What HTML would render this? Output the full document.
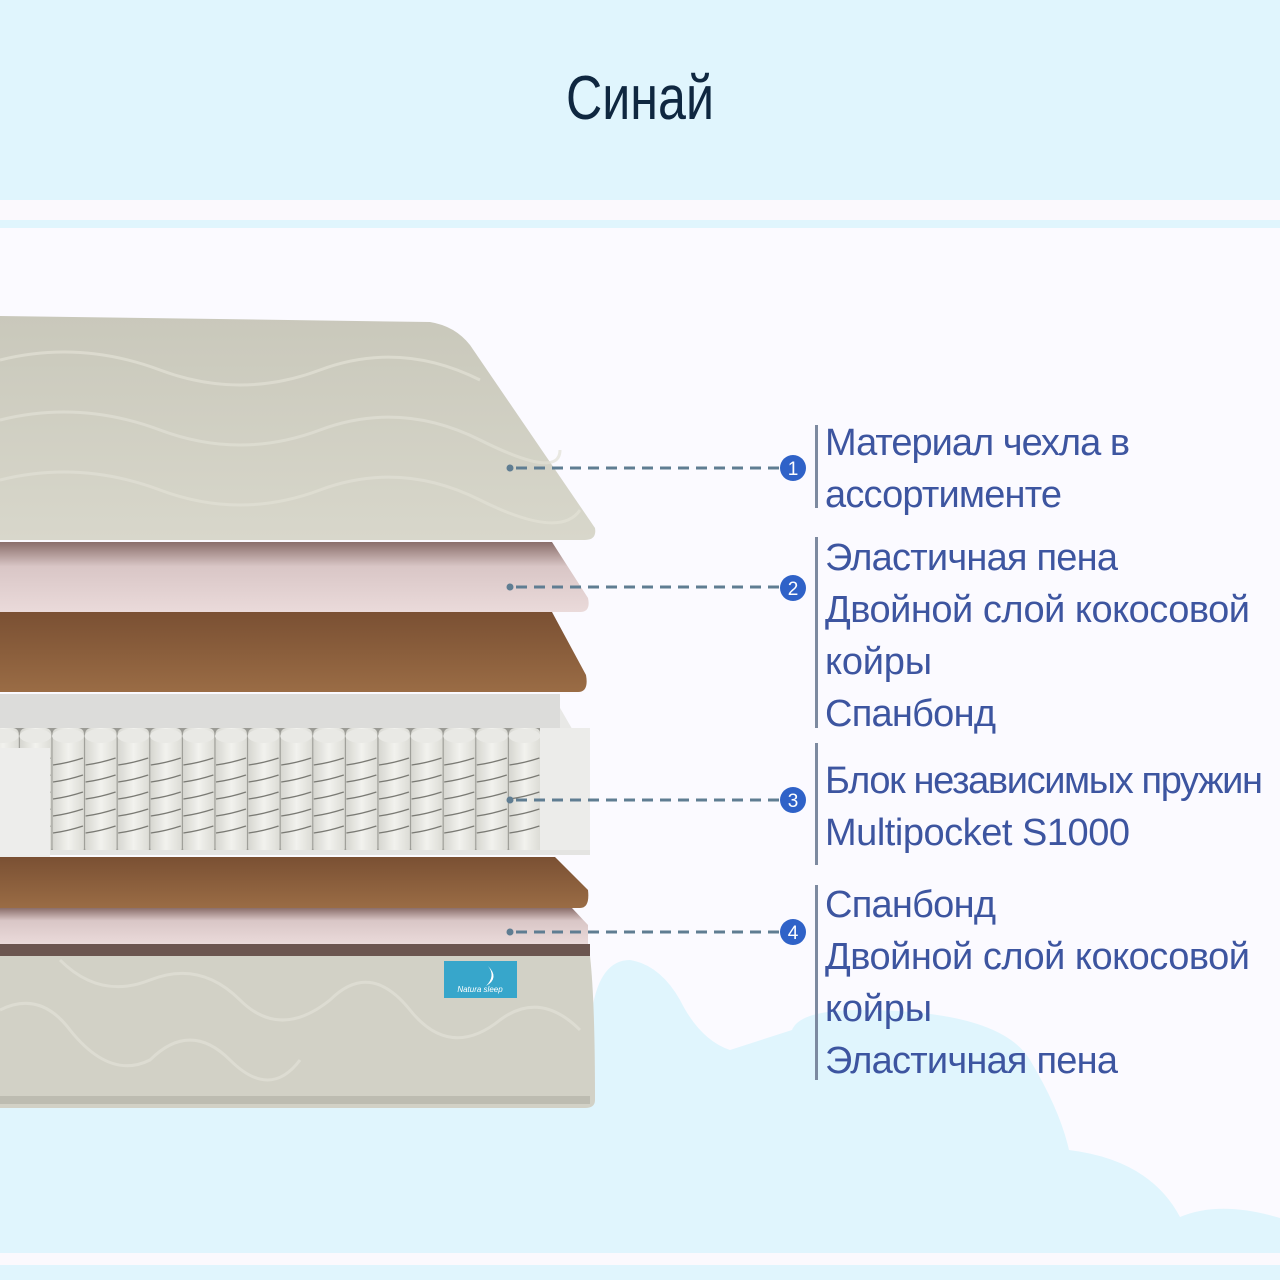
<!DOCTYPE html>
<html><head><meta charset="utf-8"><style>
html,body{margin:0;padding:0;width:1280px;height:1280px;overflow:hidden;background:#fbfaff}
svg{display:block}
</style></head><body>
<svg width="1280" height="1280" viewBox="0 0 1280 1280" xmlns="http://www.w3.org/2000/svg">
<defs>
<linearGradient id="cov" x1="0" y1="0" x2="0" y2="1"><stop offset="0" stop-color="#c9c8bb"/><stop offset="1" stop-color="#d8d7cb"/></linearGradient>
<linearGradient id="pink" x1="0" y1="0" x2="0" y2="1"><stop offset="0" stop-color="#8a6e6a"/><stop offset="0.35" stop-color="#d9c6c6"/><stop offset="1" stop-color="#eadada"/></linearGradient>
<linearGradient id="coir" x1="0" y1="0" x2="0" y2="1"><stop offset="0" stop-color="#7a5033"/><stop offset="1" stop-color="#9a6c45"/></linearGradient>
<linearGradient id="spr" x1="0" y1="0" x2="1" y2="0"><stop offset="0" stop-color="#d6d6d0"/><stop offset="0.5" stop-color="#f2f2ee"/><stop offset="1" stop-color="#dcdcd6"/></linearGradient>
<pattern id="springs" x="52" y="728" width="32.6" height="130" patternUnits="userSpaceOnUse">
<rect x="0" y="0" width="32.6" height="130" fill="#9a9a94"/>
<rect x="0.5" y="0" width="31.5" height="126" rx="6" fill="url(#spr)"/>
<ellipse cx="16" cy="8" rx="16" ry="7" fill="#e9e9e5"/>
<g stroke="#7a7a74" stroke-width="1.2" fill="none">
<path d="M1 37 Q16 35 31 30"/><path d="M1 54 Q16 52 31 47"/><path d="M1 71 Q16 69 31 64"/><path d="M1 88 Q16 86 31 81"/><path d="M1 105 Q16 103 31 98"/>
</g>
</pattern>
</defs>
<!-- background bands -->
<rect x="0" y="0" width="1280" height="200" fill="#e0f5fd"/>
<rect x="0" y="200" width="1280" height="20" fill="#fbf9fd"/>
<rect x="0" y="220" width="1280" height="8" fill="#e0f5fd"/>
<rect x="0" y="1100" width="600" height="153" fill="#e0f5fd"/>
<path d="M590 1253 L592 1010 Q600 960 630 960 Q660 965 680 1000 Q700 1040 730 1050 L792 1030 Q800 1010 860 1010 Q1000 1010 1030 1060 Q1060 1110 1069 1150 Q1150 1160 1180 1217 Q1220 1200 1280 1218 L1280 1253 Z" fill="#e0f5fd"/>
<rect x="0" y="1253" width="1280" height="12" fill="#fbf9fd"/>
<rect x="0" y="1265" width="1280" height="15" fill="#e0f5fd"/>
<text x="640" y="119" text-anchor="middle" font-family="Liberation Sans Narrow, Liberation Sans, sans-serif" font-size="62" fill="#0f2740" textLength="148" lengthAdjust="spacingAndGlyphs">Синай</text>

<!-- top cover -->
<path d="M0 316 L430 322 Q455 326 470 345 L595 528 Q597 540 585 540 L0 540 Z" fill="url(#cov)"/>
<g stroke="#e2e1d6" stroke-width="3" fill="none" opacity="0.7">
<path d="M0 360 Q80 340 160 370 T320 370 T480 380"/>
<path d="M0 420 Q80 400 160 430 T320 430 T480 440 T560 450"/>
<path d="M0 480 Q80 460 160 490 T320 490 T480 500 T580 510"/>
</g>
<!-- pink foam -->
<path d="M0 542 L552 542 L588 598 Q591 612 580 612 L0 612 Z" fill="url(#pink)"/>
<!-- coir -->
<path d="M0 612 L552 612 L586 675 Q589 692 578 692 L0 692 Z" fill="url(#coir)"/>
<!-- spring unit -->
<path d="M0 694 L552 694 L590 760 L590 855 L0 855 Z" fill="#e8e8e6"/>
<rect x="0" y="694" width="560" height="34" fill="#dcdcda"/>
<rect x="0" y="728" width="560" height="3" fill="#f4f4f2"/>
<rect x="0" y="728" width="540" height="126" fill="url(#springs)"/>
<rect x="540" y="728" width="50" height="127" fill="#ececea"/>
<rect x="0" y="748" width="50" height="120" fill="#ededeb"/>
<rect x="50" y="850" width="540" height="5" fill="#e4e4e2"/>
<!-- coir bottom -->
<path d="M0 857 L555 857 L588 890 Q590 908 580 908 L0 908 Z" fill="url(#coir)"/>
<!-- pink bottom -->
<path d="M0 908 L572 908 L588 925 L588 944 L0 944 Z" fill="url(#pink)"/>
<!-- bottom cover -->
<rect x="0" y="944" width="590" height="12" fill="#6c5650"/>
<path d="M0 956 L590 956 Q595 1000 595 1100 Q595 1108 585 1108 L0 1108 Z" fill="#d2d1c6"/>
<g stroke="#e0dfd5" stroke-width="3" fill="none" opacity="0.8">
<path d="M0 1010 Q40 990 70 1030 Q110 1080 150 1060 Q190 1020 230 1060 Q270 1100 300 1060"/>
<path d="M60 960 Q100 1000 150 980 Q200 960 240 1000 Q280 1040 330 1000 Q370 960 410 1010 Q450 1060 500 1020 Q540 990 580 1030"/>
</g>
<rect x="0" y="1096" width="590" height="8" fill="#bdbcb1"/>
<rect x="444" y="961" width="73" height="37" fill="#37a6cb"/>
<text x="480" y="992" text-anchor="middle" font-family="Liberation Sans, sans-serif" font-size="8" fill="#fff" font-style="italic">Natura sleep</text>
<path d="M488 966 Q500 978 486 986 Q496 976 488 966Z" fill="#fff"/>

<!-- connectors -->
<g stroke="#5f7d92" stroke-width="3" stroke-dasharray="11 7" fill="none">
<line x1="516" y1="468" x2="782" y2="468"/>
<line x1="516" y1="587" x2="782" y2="587"/>
<line x1="516" y1="800" x2="782" y2="800"/>
<line x1="516" y1="932" x2="782" y2="932"/>
</g>
<g fill="#5f7d92"><circle cx="510" cy="468" r="3.5"/><circle cx="510" cy="587" r="3.5"/><circle cx="510" cy="800" r="3.5"/><circle cx="510" cy="932" r="3.5"/></g>
<g fill="#2f62c8"><circle cx="793" cy="468" r="13"/><circle cx="793" cy="588" r="13"/><circle cx="793" cy="800" r="13"/><circle cx="793" cy="932" r="13"/></g>
<g fill="#fff" font-family="Liberation Sans, sans-serif" font-size="19" text-anchor="middle">
<text x="793" y="475">1</text><text x="793" y="595">2</text><text x="793" y="807">3</text><text x="793" y="939">4</text>
</g>
<g fill="#7d8aa0">
<rect x="815" y="425" width="3" height="83"/>
<rect x="815" y="537" width="3" height="191"/>
<rect x="815" y="743" width="3" height="122"/>
<rect x="815" y="885" width="3" height="195"/>
</g>
<g fill="#3d55a0" font-family="Liberation Sans Narrow, Liberation Sans, sans-serif" font-size="38" lengthAdjust="spacingAndGlyphs">
<text x="825" y="455" textLength="305">Материал чехла в</text>
<text x="825" y="507" textLength="237">ассортименте</text>
<text x="825" y="570" textLength="293">Эластичная пена</text>
<text x="825" y="622" textLength="425">Двойной слой кокосовой</text>
<text x="825" y="674" textLength="107">койры</text>
<text x="825" y="726" textLength="171">Спанбонд</text>
<text x="825" y="793" textLength="438">Блок независимых пружин</text>
<text x="825" y="845" textLength="305">Multipocket S1000</text>
<text x="825" y="917" textLength="171">Спанбонд</text>
<text x="825" y="969" textLength="425">Двойной слой кокосовой</text>
<text x="825" y="1021" textLength="107">койры</text>
<text x="825" y="1073" textLength="293">Эластичная пена</text>
</g>
</svg>
</body></html>
